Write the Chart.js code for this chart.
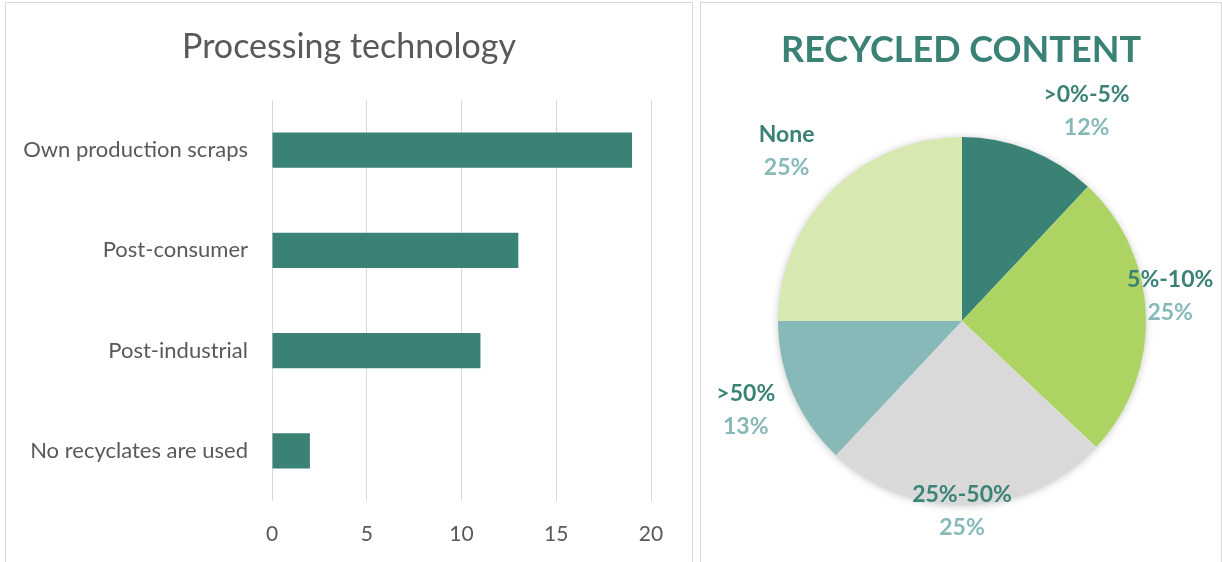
<!DOCTYPE html>
<html>
<head>
<meta charset="utf-8">
<script src="https://cdn.jsdelivr.net/npm/chart.js@4.4.1/dist/chart.umd.min.js"></script>
<style>
  html, body { margin: 0; padding: 0; background: #fff; }
  body { width: 1222px; height: 562px; position: relative; overflow: hidden; }
  .panel { position: absolute; border: 1px solid #d9d9d9; box-sizing: border-box; background: #fff; }
  #barBox { left: 5px; top: 2px; width: 688px; height: 580px; }
  #pieBox { left: 700px; top: 2px; width: 522px; height: 580px; }
  .panel canvas { position: absolute; left: 0; top: 0; }
</style>
</head>
<body>
<div class="panel" id="barBox"><canvas id="barChart" width="686" height="560"></canvas></div>
<div class="panel" id="pieBox"><canvas id="pieChart" width="520" height="560"></canvas></div>

<script>
/* ── Data ───────────────────────────────────────────────────── */
const techCategories = [
  "Own production scraps",
  "Post-consumer",
  "Post-industrial",
  "No recyclates are used",
];
const techCounts = [19, 13, 11, 2];
const techTicks = [0, 5, 10, 15, 20];

const contentLabels = [">0%-5%", "5%-10%", "25%-50%", ">50%", "None"];
const contentShares = [12, 25, 25, 13, 25];

/* ── Palette ────────────────────────────────────────────────── */
const TEAL = "#3a8276";
const TEAL_LIGHT = "#87b9b9";
const TEXT = "#595959";
const GRID = "#d9d9d9";
const sliceColors = ["#3a8276", "#add462", "#d9d9d9", "#87b9b9", "#d7e9b1"];

Chart.defaults.font.family = "Lato, 'Open Sans', sans-serif";
Chart.defaults.color = TEXT;

/* Title centred on the full canvas width (the built-in one is centred
   inside the layout padding, which is lopsided here) */
const panelTitle = {
  id: "panelTitle",
  afterDraw(chart, args, opts) {
    const ctx = chart.ctx;
    ctx.save();
    ctx.font = opts.font;
    ctx.fillStyle = opts.color;
    ctx.textAlign = "center";
    ctx.textBaseline = "middle";
    ctx.fillText(opts.text, chart.width / 2, opts.y);
    ctx.restore();
  },
};

/* ── Bar chart: processing technology ───────────────────────── */
new Chart(document.getElementById("barChart"), {
  type: "bar",
  data: {
    labels: techCategories,
    datasets: [{
      data: techCounts,
      backgroundColor: TEAL,
      borderWidth: 0,
      categoryPercentage: 1,
      barPercentage: 0.35,
    }],
  },
  options: {
    indexAxis: "y",
    responsive: false,
    animation: false,
    layout: { padding: { left: 0, right: 41, top: 97, bottom: 0 } },
    plugins: {
      legend: { display: false },
      tooltip: { enabled: false },
      title: { display: false },
      panelTitle: {
        text: "Processing technology",
        font: "34px Lato, 'Open Sans', sans-serif",
        color: TEXT,
        y: 44,
      },
    },
    scales: {
      x: {
        min: 0,
        max: 20,
        afterBuildTicks: (axis) => { axis.ticks = techTicks.map((v) => ({ value: v })); },
        grid: { color: GRID, drawTicks: false },
        border: { display: false },
        ticks: { padding: 21, font: { size: 21 }, color: TEXT },
        afterFit: (axis) => { axis.height = 62; },
      },
      y: {
        grid: { display: false, drawTicks: false },
        border: { display: false },
        ticks: { padding: 24, font: { size: 22 }, color: TEXT },
        afterFit: (axis) => { axis.width = 266; },
      },
    },
  },
  plugins: [panelTitle],
});

/* ── Pie chart helpers ──────────────────────────────────────── */
/* soft drop shadow under the whole pie */
const pieShadow = {
  id: "pieShadow",
  beforeDatasetsDraw(chart) {
    const arc = chart.getDatasetMeta(0).data[0];
    if (!arc) return;
    const ctx = chart.ctx;
    ctx.save();
    ctx.shadowColor = "rgba(0,0,0,0.28)";
    ctx.shadowBlur = 9;
    ctx.shadowOffsetY = 1;
    ctx.fillStyle = "#fff";
    ctx.beginPath();
    ctx.arc(arc.x, arc.y, arc.outerRadius - 1, 0, Math.PI * 2);
    ctx.fill();
    ctx.restore();
  },
};

/* category name + percentage outside each slice */
const sliceLabels = {
  id: "sliceLabels",
  afterDatasetsDraw(chart, args, opts) {
    const ctx = chart.ctx;
    const values = chart.data.datasets[0].data;
    const total = values.reduce((a, b) => a + b, 0);
    chart.getDatasetMeta(0).data.forEach((arc, i) => {
      const place = opts.place[i];
      const mid = (arc.startAngle + arc.endAngle) / 2 + place.shift * Math.PI / 180;
      const d = arc.outerRadius * place.dist;
      const x = arc.x + Math.cos(mid) * d;
      const y = arc.y + Math.sin(mid) * d;
      ctx.save();
      ctx.textAlign = "center";
      ctx.textBaseline = "middle";
      ctx.font = "bold 23px Lato, 'Open Sans', sans-serif";
      ctx.fillStyle = TEAL;
      ctx.fillText(chart.data.labels[i], x, y - 16);
      ctx.fillStyle = TEAL_LIGHT;
      ctx.fillText(Math.round(values[i] / total * 100) + "%", x, y + 17);
      ctx.restore();
    });
  },
};

/* ── Pie chart: recycled content ────────────────────────────── */
new Chart(document.getElementById("pieChart"), {
  type: "pie",
  data: {
    labels: contentLabels,
    datasets: [{
      data: contentShares,
      backgroundColor: sliceColors,
      borderWidth: 0,
    }],
  },
  options: {
    responsive: false,
    animation: false,
    layout: { padding: { left: 77, right: 75, top: 134, bottom: 58 } },
    plugins: {
      legend: { display: false },
      tooltip: { enabled: false },
      title: { display: false },
      panelTitle: {
        text: "RECYCLED CONTENT",
        font: "bold 36px Lato, 'Open Sans', sans-serif",
        color: TEAL,
        y: 47,
      },
      sliceLabels: {
        place: [
          { dist: 1.33, shift: 9 },
          { dist: 1.14, shift: -5.2 },
          { dist: 1.03, shift: 1.8 },
          { dist: 1.27, shift: 1.1 },
          { dist: 1.33, shift: -0.8 },
        ],
      },
    },
  },
  plugins: [pieShadow, sliceLabels, panelTitle],
});
</script>
</body>
</html>
